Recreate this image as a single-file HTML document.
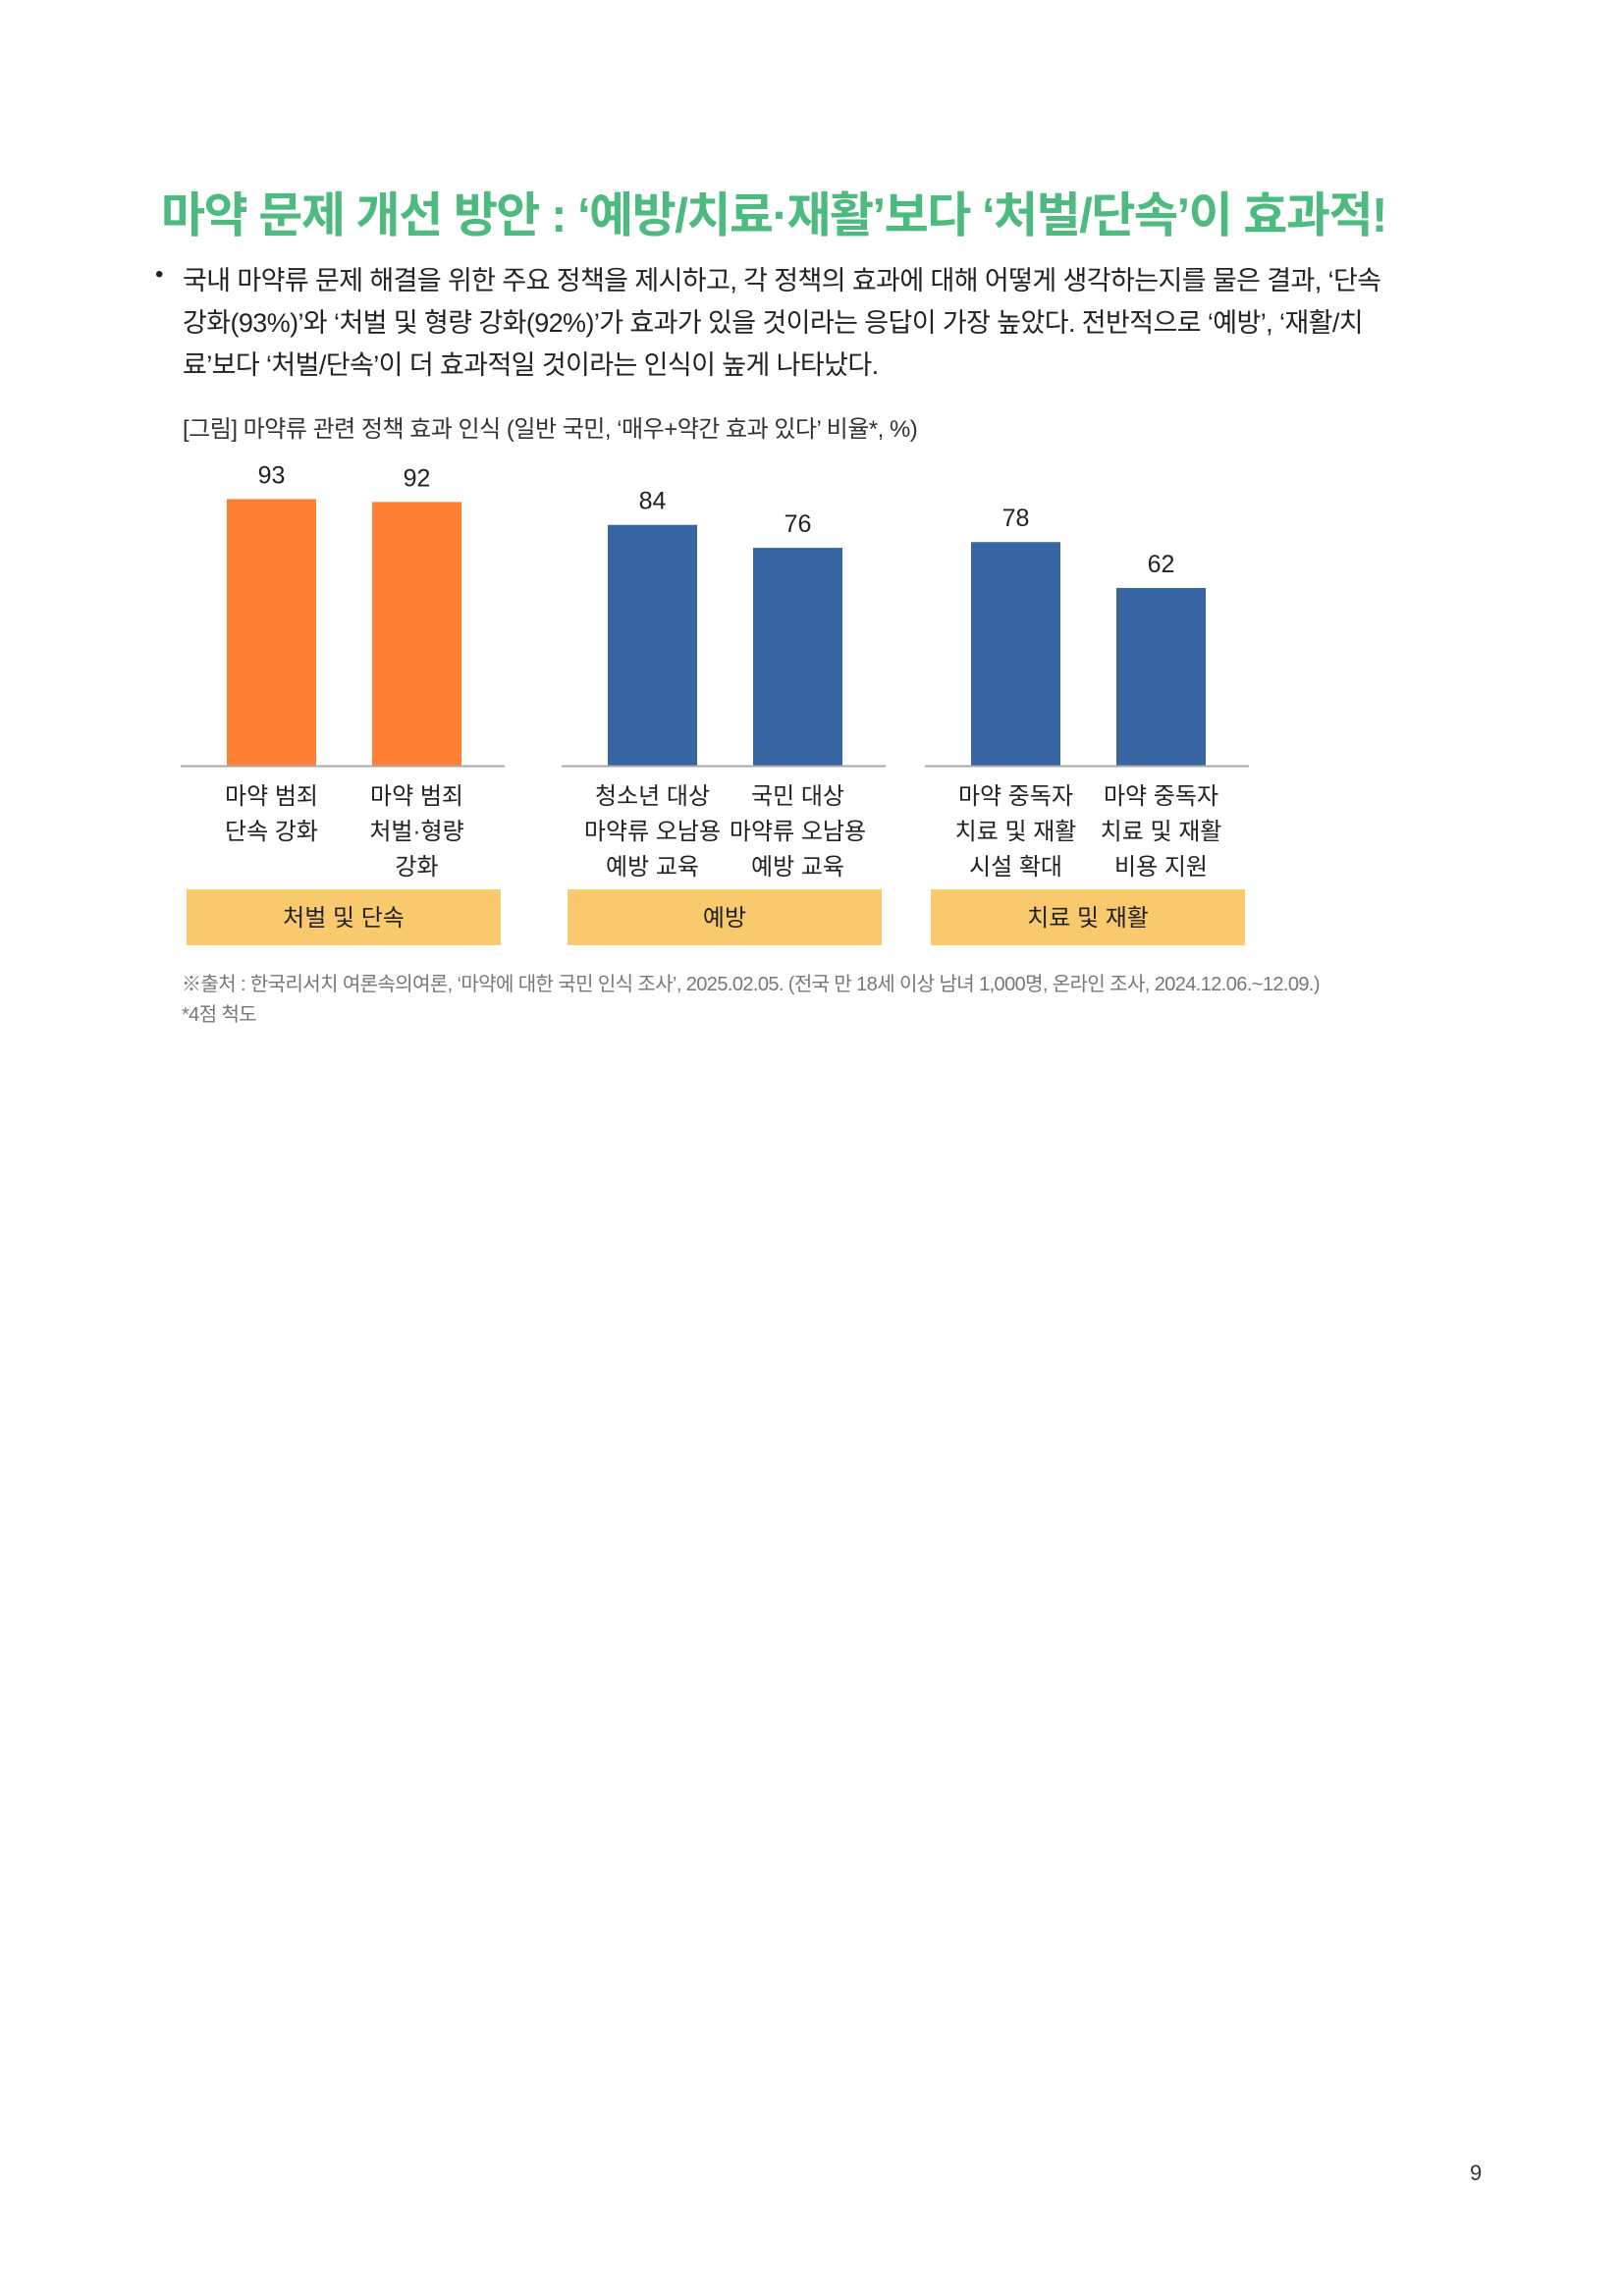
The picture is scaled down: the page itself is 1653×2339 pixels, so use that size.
<!DOCTYPE html>
<html><head><meta charset="utf-8">
<style>
body{margin:0;background:#fff;}
#page{position:relative;width:1653px;height:2339px;background:#fff;font-family:"Liberation Sans","Noto Sans CJK KR",sans-serif;color:#222;overflow:hidden;}
.abs{position:absolute;white-space:nowrap;}
#title{left:164px;top:180px;font-size:49px;font-weight:bold;color:#4dba80;letter-spacing:-1.5px;}
.bl{left:186px;font-size:27px;letter-spacing:-0.6px;color:#222;}
#caption{left:186px;top:417px;font-size:24px;letter-spacing:-0.5px;color:#333;}
.fn{left:185px;font-size:20px;color:#777;letter-spacing:-0.6px;}
</style></head><body>
<div id="page">
<div id="title" class="abs">마약 문제 개선 방안 : ‘예방/치료·재활’보다 ‘처벌/단속’이 효과적!</div>
<div class="abs" style="left:158px;top:266px;font-size:24px;">•</div>
<div class="abs bl" style="top:264px;">국내 마약류 문제 해결을 위한 주요 정책을 제시하고, 각 정책의 효과에 대해 어떻게 생각하는지를 물은 결과, ‘단속</div>
<div class="abs bl" style="top:307px;">강화(93%)’와 ‘처벌 및 형량 강화(92%)’가 효과가 있을 것이라는 응답이 가장 높았다. 전반적으로 ‘예방’, ‘재활/치</div>
<div class="abs bl" style="top:350px;">료’보다 ‘처벌/단속’이 더 효과적일 것이라는 인식이 높게 나타났다.</div>
<div id="caption" class="abs">[그림] 마약류 관련 정책 효과 인식 (일반 국민, ‘매우+약간 효과 있다’ 비율*, %)</div>
<svg id="chart" class="abs" style="left:0;top:0;" width="1653" height="1100"></svg>
<div class="abs fn" style="top:986px;">※출처 : 한국리서치 여론속의여론, ‘마약에 대한 국민 인식 조사’, 2025.02.05. (전국 만 18세 이상 남녀 1,000명, 온라인 조사, 2024.12.06.~12.09.)</div>
<div class="abs fn" style="top:1017px;">*4점 척도</div>
<div class="abs" style="left:1497px;top:2201px;font-size:22px;color:#333;">9</div>
</div>
<script>
const categories=[["마약 범죄","단속 강화"],["마약 범죄","처벌·형량","강화"],["청소년 대상","마약류 오남용","예방 교육"],["국민 대상","마약류 오남용","예방 교육"],["마약 중독자","치료 및 재활","시설 확대"],["마약 중독자","치료 및 재활","비용 지원"]];
const values=[93,92,84,76,78,62];
const groupOf=[0,0,1,1,2,2];
const groups=["처벌 및 단속","예방","치료 및 재활"];
const groupColors=["#fe8034","#3866a2","#3866a2"];
const svg=document.getElementById('chart');
const NS='http://www.w3.org/2000/svg';
const baseY=780, unit=2.92, barW=91;
const groupX0=[184,572,942], groupW=330;
function xCenter(i){const g=groupOf[i];const k=i%2;return groupX0[g]+groupW*(k===0?0.25:0.75)+(k===0?10:-7);}
function yVal(v){return baseY-v*unit;}
function mk(tag,attrs){const e=document.createElementNS(NS,tag);for(const k in attrs)e.setAttribute(k,attrs[k]);svg.appendChild(e);return e;}
values.forEach((v,i)=>{
  const cx=xCenter(i);
  const r=mk('rect',{x:cx-barW/2,y:yVal(v),width:barW,height:baseY-yVal(v),fill:groupColors[groupOf[i]]});
  
  
  const t=mk('text',{x:cx,y:yVal(v)-16,'text-anchor':'middle','font-size':25,fill:'#222','font-family':'Liberation Sans, sans-serif'});
  t.textContent=v;
  
  
  categories[i].forEach((ln,j)=>{
    const c=mk('text',{x:cx,y:819+j*36,'text-anchor':'middle','font-size':24,fill:'#222','font-family':'Liberation Sans, Noto Sans CJK KR, sans-serif'});
    c.textContent=ln;
    
    
  });
});
groups.forEach((g,gi)=>{
  const l=mk('line',{x1:groupX0[gi],x2:groupX0[gi]+groupW,y1:baseY+0.5,y2:baseY+0.5,stroke:'#aaa','stroke-width':2});
  
  
  const b=mk('rect',{x:groupX0[gi]+6,y:906,width:320,height:57,fill:'#f9c96e'});
  
  
  const t=mk('text',{x:groupX0[gi]+166,y:943,'text-anchor':'middle','font-size':24,fill:'#222','font-family':'Liberation Sans, Noto Sans CJK KR, sans-serif'});
  t.textContent=g;
  
  
});
</script>
</body></html>
